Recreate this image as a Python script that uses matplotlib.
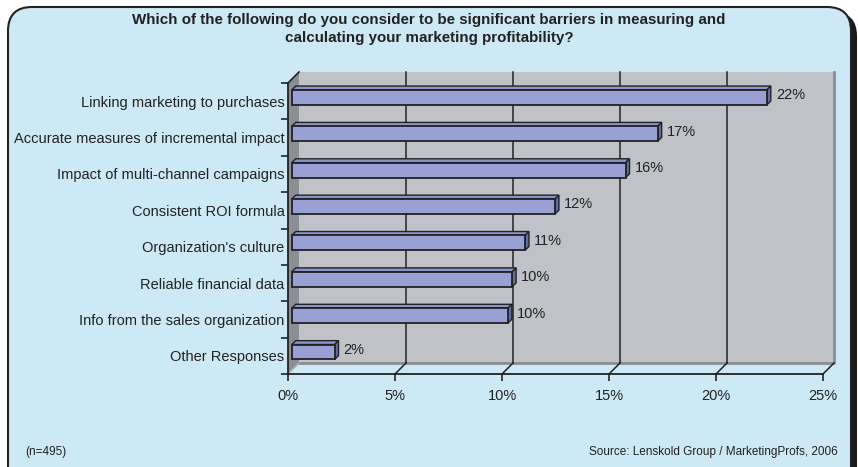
import matplotlib.pyplot as plt
import numpy as np
from matplotlib.patches import FancyBboxPatch, Polygon
from matplotlib.transforms import IdentityTransform

plt.rcParams['font.family'] = ['Liberation Sans', 'DejaVu Sans']

# data
categories = ['Linking marketing to purchases',
              'Accurate measures of incremental impact',
              'Impact of multi-channel campaigns',
              'Consistent ROI formula',
              "Organization's culture",
              'Reliable financial data',
              'Info from the sales organization',
              'Other Responses']
values = [22.2, 17.1, 15.6, 12.3, 10.9, 10.3, 10.1, 2.0]
value_labels = ['22%', '17%', '16%', '12%', '11%', '10%', '10%', '2%']
xticks = [0, 5, 10, 15, 20, 25]
xtick_labels = ['0%', '5%', '10%', '15%', '20%', '25%']

title = ('Which of the following do you consider to be significant barriers in measuring and\n'
         'calculating your marketing profitability?')
note_left = '(n=495)'
note_right = 'Source: Lenskold Group / MarketingProfs, 2006'

W, H = 858, 467
BG = '#cce9f5'
WALL = '#c0c2c8'
SIDEWALL = '#8a8f94'
BAR_FRONT = '#98a0d4'
BAR_TOP = '#8a94cc'
BAR_SIDE = '#5f6ea8'
TXT = '#222222'
DEPTH = 11  # px of 3d depth

fig = plt.figure(figsize=(W / 100, H / 100), dpi=100)
fig.patch.set_facecolor('white')

# background card
bg = fig.add_axes([0, 0, 1, 1], zorder=-1)
bg.set_xlim(0, W)
bg.set_ylim(H, 0)
bg.axis('off')
bg.add_patch(FancyBboxPatch((14, 12), 843, 500, boxstyle='round,pad=0,rounding_size=24',
                            facecolor='#1a1a1a', edgecolor='none'))
bg.add_patch(FancyBboxPatch((8, 7), 843, 500, boxstyle='round,pad=0,rounding_size=24',
                            facecolor=BG, edgecolor='#222222', linewidth=1.5))
bg.text(429, 29, title, ha='center', va='center', fontsize=10.9, fontweight='bold',
        color=TXT, linespacing=1.35)
bg.text(25, 452, note_left, ha='left', va='center', fontsize=8.5, color=TXT)
bg.text(838, 452, note_right, ha='right', va='center', fontsize=8.5, color=TXT)

# main axes (front plane)
ax = fig.add_axes([288 / W, (H - 374) / H, (823 - 288) / W, (374 - 83) / H])
n = len(categories)
ypos = np.arange(n)
ax.set_xlim(0, 25)
ax.set_ylim(n - 0.5, -0.5)
ax.patch.set_visible(False)
for s in ['top', 'right']:
    ax.spines[s].set_visible(False)
for s in ['left', 'bottom']:
    ax.spines[s].set_color('#222222')
    ax.spines[s].set_linewidth(1.3)
    ax.spines[s].set_zorder(6)

ax.set_xticks(xticks)
ax.set_xticklabels(xtick_labels, fontsize=10.5, color=TXT)
ax.tick_params(axis='x', length=5, width=1.2, color='#222222', pad=6)
ax.set_yticks(np.arange(-0.5, n, 1))
ax.set_yticklabels([])
ax.set_yticks(ypos, minor=True)
ax.set_yticklabels(categories, minor=True, fontsize=10.5, color=TXT)
ax.tick_params(axis='y', which='major', length=5, width=1.2, color='#222222')
ax.tick_params(axis='y', which='minor', length=0, pad=2.5)

ident = IdentityTransform()


def P(x, y, d):
    px, py = ax.transData.transform((x, y))
    return (px + DEPTH * d, py + DEPTH * d)


def poly(pts, fc, ec, lw=1.0, z=2):
    ax.add_patch(Polygon(pts, closed=True, facecolor=fc, edgecolor=ec, linewidth=lw,
                         transform=ident, clip_on=False, zorder=z))


def line(pts, color, lw=1.0, z=2):
    xs, ys = zip(*pts)
    ax.add_line(plt.Line2D(xs, ys, color=color, linewidth=lw, transform=ident,
                           clip_on=False, zorder=z))


ymin, ymax = n - 0.5, -0.5
# back wall
poly([P(0, ymin, 1), P(25, ymin, 1), P(25, ymax, 1), P(0, ymax, 1)], WALL, 'none', z=1)
line([P(0, ymin, 1), P(25, ymin, 1), P(25, ymax, 1)], '#8a8e92', lw=2.0, z=1.5)
# gridlines on wall and floor
for xv in xticks[1:-1]:
    line([P(xv, ymin, 1), P(xv, ymax, 1)], '#222222', lw=1.1, z=1.6)
for xv in xticks[1:]:
    line([P(xv, ymin, 0), P(xv, ymin, 1)], '#222222', lw=1.1, z=1.6)
# left side wall
poly([P(0, ymin, 0), P(0, ymin, 1), P(0, ymax, 1), P(0, ymax, 0)], SIDEWALL, 'none', z=1.7)
line([P(0, ymax, 0), P(0, ymax, 1)], '#222222', lw=1.2, z=1.8)
line([P(0, ymin, 0), P(0, ymin, 1)], '#b0b4b8', lw=1.0, z=1.8)

# bars
h = 0.41
d0, d1 = 0.35, 0.7
for i, v in enumerate(values):
    top, bot = i - h / 2, i + h / 2
    poly([P(0, top, d0), P(v, top, d0), P(v, top, d1), P(0, top, d1)], BAR_TOP, '#222222', 1.0, 3)
    poly([P(v, top, d0), P(v, bot, d0), P(v, bot, d1), P(v, top, d1)], BAR_SIDE, '#222222', 1.0, 3)
    poly([P(0, top, d0), P(v, top, d0), P(v, bot, d0), P(0, bot, d0)], BAR_FRONT, '#222222', 1.3, 4)
    ax.annotate(value_labels[i], xy=(v, i), xytext=(DEPTH * d1 + 5, DEPTH * d0 + 2),
                textcoords='offset pixels', ha='left', va='center', fontsize=10.5, color=TXT,
                annotation_clip=False)

fig.savefig('out.png', dpi=100)
